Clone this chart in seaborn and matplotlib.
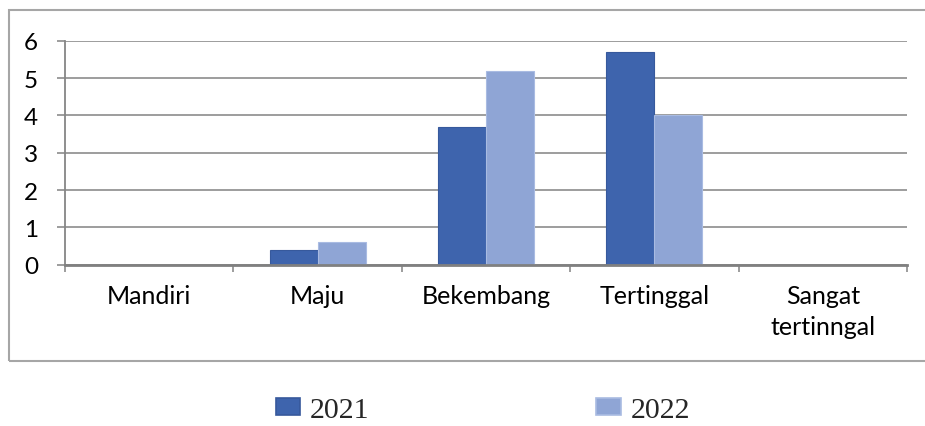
import matplotlib
matplotlib.use("Agg")
import matplotlib.pyplot as plt
import seaborn as sns
import pandas as pd
from matplotlib.patches import Rectangle, Patch
from matplotlib.ticker import FixedLocator

categories = ["Mandiri", "Maju", "Bekembang", "Tertinggal", "Sangat\ntertinngal"]
years = ["2021", "2022"]
values_2021 = [0, 0.4, 3.7, 5.7, 0]
values_2022 = [0, 0.6, 5.2, 4.0, 0]
yticks = [0, 1, 2, 3, 4, 5, 6]

colors = {"2021": "#3E64AD", "2022": "#8FA5D5"}
edges = {"2021": "#37599C", "2022": "#A9BBE2"}

df = pd.DataFrame({
    "cat": categories * 2,
    "year": ["2021"] * len(categories) + ["2022"] * len(categories),
    "val": values_2021 + values_2022,
})

sns.set_theme(style="white")
plt.rcParams["font.family"] = ["Lato", "DejaVu Sans"]

fig = plt.figure(figsize=(9.25, 4.27), dpi=100)
ax = fig.add_axes([65 / 925, 1 - 265.7 / 427, (907 - 65) / 925, (265.7 - 41.7) / 427])

sns.barplot(data=df, x="cat", y="val", hue="year", order=categories, hue_order=years,
            palette=colors, width=0.57, ax=ax, legend=False, saturation=1)
for cont, y in zip(ax.containers, years):
    for b in cont:
        b.set_edgecolor(edges[y])
        b.set_linewidth(0.8)

ax.set_xlim(-0.5, len(categories) - 0.5)
ax.set_ylim(0, 6)
ax.set_yticks(yticks)
ax.set_yticklabels([str(t) for t in yticks])
ax.set_xlabel("")
ax.set_ylabel("")
ax.yaxis.grid(True, color="#8C8C8C", linewidth=1.2)
ax.set_axisbelow(True)
for s in ["top", "right"]:
    ax.spines[s].set_visible(False)
ax.spines["left"].set_color("#868686")
ax.spines["left"].set_linewidth(1.3)
ax.spines["bottom"].set_color("#808080")
ax.spines["bottom"].set_linewidth(2)
ax.tick_params(axis="y", length=5.8, width=1.2, color="#8C8C8C", pad=13.5, labelsize=17.5, labelcolor="black", left=True)
ax.tick_params(axis="x", which="major", length=0, pad=14, labelsize=18, labelcolor="black")
ax.xaxis.set_minor_locator(FixedLocator([i - 0.5 for i in range(len(categories) + 1)]))
ax.tick_params(axis="x", which="minor", length=5, width=1.2, color="#8C8C8C", bottom=True)
for lbl in ax.get_xticklabels():
    lbl.set_linespacing(1.4)
    lbl.set_verticalalignment("top")

# outer chart border
fig.patches.append(Rectangle((9 / 925, 1 - 362 / 427), (930 - 9) / 925, (362 - 11) / 427,
                             transform=fig.transFigure, fill=False, edgecolor="#A6A6A6",
                             linewidth=1.5, clip_on=False))

handles = [Patch(facecolor=colors[y], edgecolor=edges[y], linewidth=1.2, label=y) for y in years]
fig.legend(handles=handles, loc="center", bbox_to_anchor=(483 / 925, 1 - 411 / 427), ncol=2,
           frameon=False, prop={"family": "Liberation Serif", "size": 21.5},
           handlelength=0.82, handleheight=0.5, handletextpad=0.33, columnspacing=7.6,
           borderpad=0, borderaxespad=0)

fig.savefig("out.png", dpi=100)
